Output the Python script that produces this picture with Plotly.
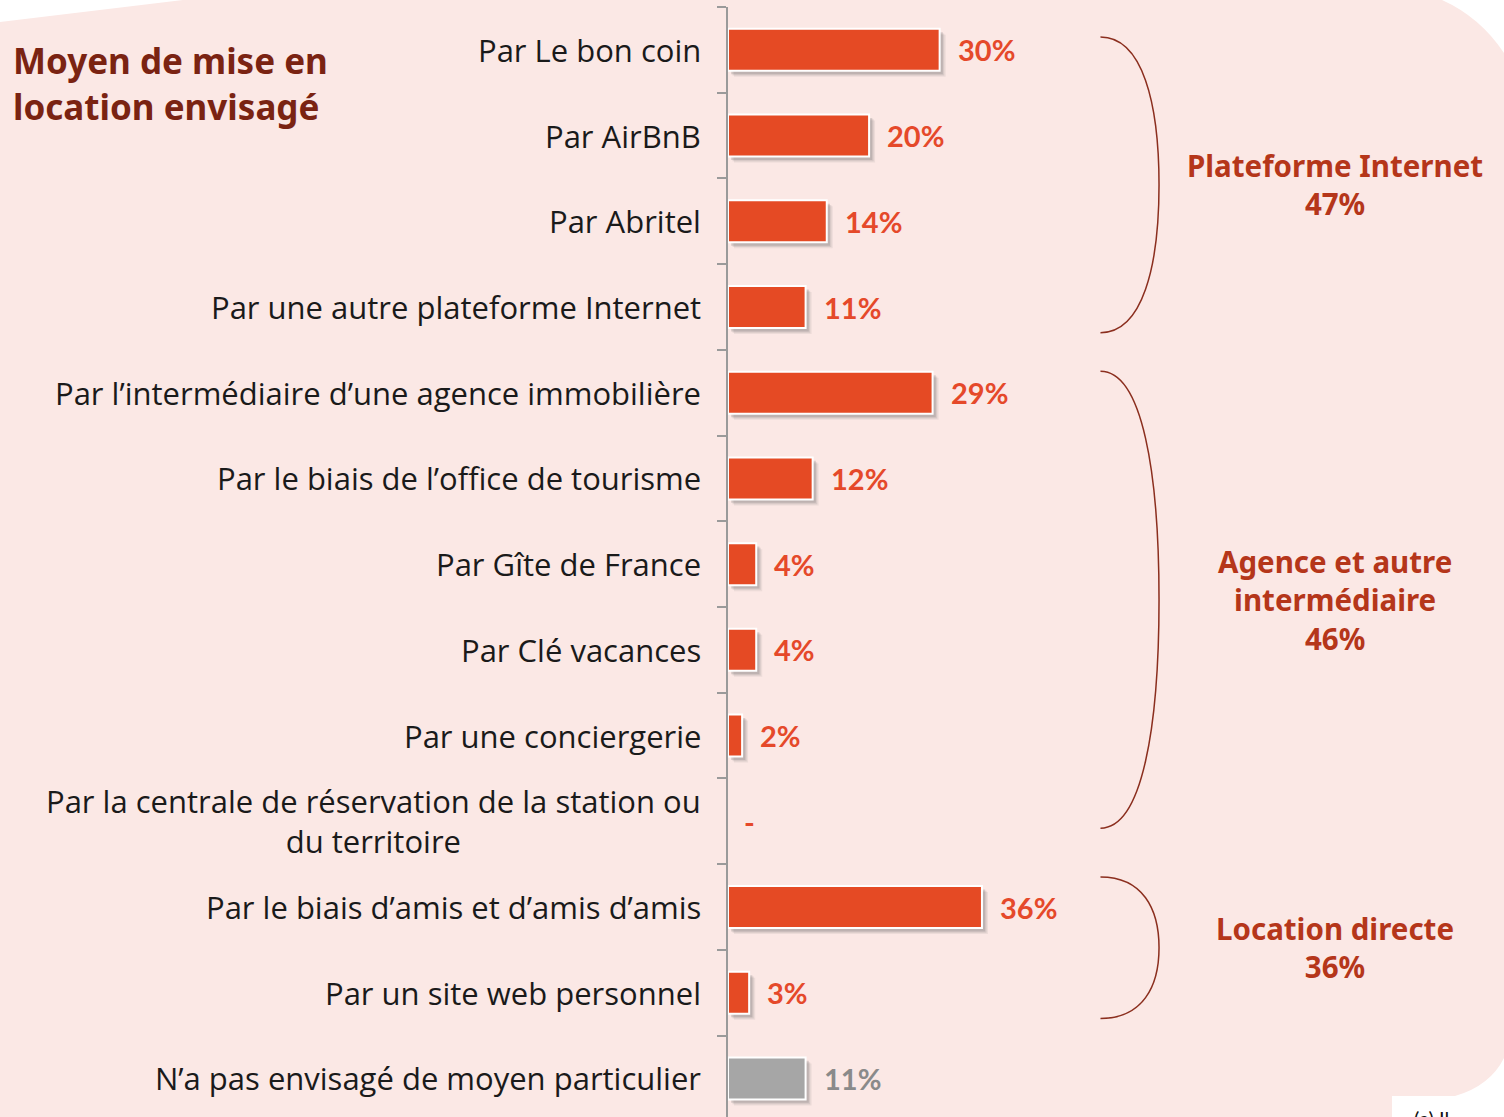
import plotly.graph_objects as go

# ---------------- data ----------------
categories = [
    "Par Le bon coin",
    "Par AirBnB",
    "Par Abritel",
    "Par une autre plateforme Internet",
    "Par l\u2019interm\u00e9diaire d\u2019une agence immobili\u00e8re",
    "Par le biais de l\u2019office de tourisme",
    "Par G\u00eete de France",
    "Par Cl\u00e9 vacances",
    "Par une conciergerie",
    "Par la centrale de r\u00e9servation de la station ou<br>du territoire",
    "Par le biais d\u2019amis et d\u2019amis d\u2019amis",
    "Par un site web personnel",
    "N\u2019a pas envisag\u00e9 de moyen particulier",
]
values = [30, 20, 14, 11, 29, 12, 4, 4, 2, 0, 36, 3, 11]
value_labels = ["30%", "20%", "14%", "11%", "29%", "12%", "4%", "4%", "2%", "-", "36%", "3%", "11%"]
is_other = [False] * 12 + [True]

group_names = ["Plateforme Internet", "Agence et autre<br>interm\u00e9diaire", "Location directe"]
group_values = ["47%", "46%", "36%"]
group_rows = [(0, 3), (4, 9), (10, 11)]

title_text = "Moyen de mise en<br>location envisag\u00e9"

# ---------------- style ----------------
W, H = 1504, 1117
ML, MR, MT, MB = 728, 0, 7, 0
PINK = "#FBE8E5"
ORANGE = "#E54A24"
GREY_BAR = "#A6A6A6"
LABEL_ORANGE = "#E5492A"
LABEL_GREY = "#8A8A8A"
GROUP_COL = "#B5361A"
TITLE_COL = "#7A2312"
BRACE_COL = "#8B2E1E"
XMAX = 110
YRANGE = [12.45, -0.5]

n = len(categories)
rows = list(range(n))
bar_colors = [GREY_BAR if o else ORANGE for o in is_other]


def px_to_paper(px, py):
    return ((px - ML) / (W - ML - MR), 1 - (py - MT) / (H - MT - MB))


fig = go.Figure()

# shadow layers (blurred drop shadow)
shadow_vals = [v if v > 0 else None for v in values]
for dx, dy, op in [(0.85, 0.07, 0.10), (0.65, 0.055, 0.16), (0.45, 0.04, 0.25)]:
    fig.add_trace(go.Bar(
        y=rows, x=shadow_vals, base=dx, orientation="h",
        width=0.49, offset=-0.245 + dy,
        marker=dict(color="#6E6E6E", opacity=op, line=dict(width=0)),
        hoverinfo="skip", showlegend=False,
    ))

# main bars
fig.add_trace(go.Bar(
    y=rows, x=[v if v > 0 else None for v in values], orientation="h",
    width=0.49, offset=-0.245,
    marker=dict(color=bar_colors, line=dict(color="white", width=2)),
    showlegend=False,
))

annotations = []
# category labels
for r, c in zip(rows, categories):
    annotations.append(dict(
        x=0, y=r, xref="x", yref="y", text=c, showarrow=False,
        xanchor="right", yanchor="middle", xshift=-25, align="center",
        font=dict(family="Open Sans", size=31, color="#1A1A1A"),
    ))
# value labels
for r, v, lab, o in zip(rows, values, value_labels, is_other):
    annotations.append(dict(
        x=v, y=r, xref="x", yref="y", text="<b>%s</b>" % lab, showarrow=False,
        xanchor="left", yanchor="middle", xshift=16 if v > 0 else 14,
        font=dict(family="Lato", size=29, color=LABEL_GREY if o else LABEL_ORANGE),
    ))

shapes = []
# brackets
BX0, BX1 = 52.8, 61.1
spans = [(-0.15, 0.3), (-0.25, 0.08), (-0.35, 0.3)]
for (a, b), (t, bo), name, gv in zip(group_rows, spans, group_names, group_values):
    yt, yb = a + t, b + bo
    ym = (yt + yb) / 2
    h = (yb - yt) / 2
    xc = BX0 + 0.72 * (BX1 - BX0)
    path = (f"M {BX0},{yt} C {xc},{yt} {BX1},{ym - 0.55 * h} {BX1},{ym} "
            f"C {BX1},{ym + 0.55 * h} {xc},{yb} {BX0},{yb}")
    shapes.append(dict(type="path", path=path, xref="x", yref="y",
                       line=dict(color=BRACE_COL, width=1.5)))
    annotations.append(dict(
        x=86.0, y=ym, xref="x", yref="y", text="<b>%s<br>%s</b>" % (name, gv),
        showarrow=False, xanchor="center", yanchor="middle", align="center",
        font=dict(family="Noto Sans", size=29.5, color=GROUP_COL),
    ))


# white corners of the pink panel
def pp(points):
    segs = []
    for cmd, (x, y) in points:
        px, py = px_to_paper(x, y)
        segs.append("%s %.5f,%.5f" % (cmd, px, py))
    return " ".join(segs) + " Z"


tl = pp([("M", (-5, -5)), ("L", (185, -5)), ("L", (183, 0)), ("L", (0, 22)), ("L", (-5, 22))])

a0 = px_to_paper(1442, 0); c1 = px_to_paper(1480, 17); a1 = px_to_paper(1504, 53)
b1 = px_to_paper(1510, 53); b2 = px_to_paper(1510, -5); b3 = px_to_paper(1442, -5)
tr = ("M %.5f,%.5f Q %.5f,%.5f %.5f,%.5f L %.5f,%.5f L %.5f,%.5f L %.5f,%.5f Z"
      % (*a0, *c1, *a1, *b1, *b2, *b3))

d0 = px_to_paper(1504, 1058); dc = px_to_paper(1490, 1086); d1 = px_to_paper(1455, 1096)
e1 = px_to_paper(1392, 1096); e2 = px_to_paper(1392, 1125); e3 = px_to_paper(1510, 1125)
e4 = px_to_paper(1510, 1058)
br = ("M %.5f,%.5f Q %.5f,%.5f %.5f,%.5f L %.5f,%.5f L %.5f,%.5f L %.5f,%.5f L %.5f,%.5f Z"
      % (*d0, *dc, *d1, *e1, *e2, *e3, *e4))

for p in [tl, tr, br]:
    shapes.append(dict(type="path", path=p, xref="paper", yref="paper",
                       fillcolor="white", line=dict(width=0), layer="below"))

# title
tx, ty = px_to_paper(11, 35)
annotations.append(dict(
    x=tx, y=ty, xref="paper", yref="paper", text="<b>%s</b>" % title_text,
    showarrow=False, xanchor="left", yanchor="top", align="left",
    font=dict(family="Noto Sans", size=35, color=TITLE_COL),
))
# clipped footnote at bottom right (cut by the page edge, as in the source)
fx, fy = px_to_paper(1412, 1104)
annotations.append(dict(
    x=fx, y=fy, xref="paper", yref="paper", text="(a) Il",
    showarrow=False, xanchor="left", yanchor="top",
    font=dict(family="Lato", size=20, color="#111111"),
))

fig.update_layout(
    width=W, height=H,
    margin=dict(l=ML, r=MR, t=MT, b=MB, pad=0),
    paper_bgcolor=PINK, plot_bgcolor="rgba(0,0,0,0)",
    barmode="overlay",
    xaxis=dict(range=[0, XMAX], visible=False, showgrid=False, zeroline=False),
    yaxis=dict(
        range=YRANGE, showgrid=False, zeroline=False,
        showline=True, linecolor="#9A9A9A", linewidth=2,
        tickvals=[r - 0.5 for r in rows] + [n - 0.5], ticks="outside",
        ticklen=9, tickwidth=2, tickcolor="#9A9A9A", showticklabels=False,
    ),
    shapes=shapes, annotations=annotations,
)

fig.write_html("out.html", config={"displayModeBar": False},
               post_script="document.body.style.margin='0';document.body.style.overflow='hidden';")
